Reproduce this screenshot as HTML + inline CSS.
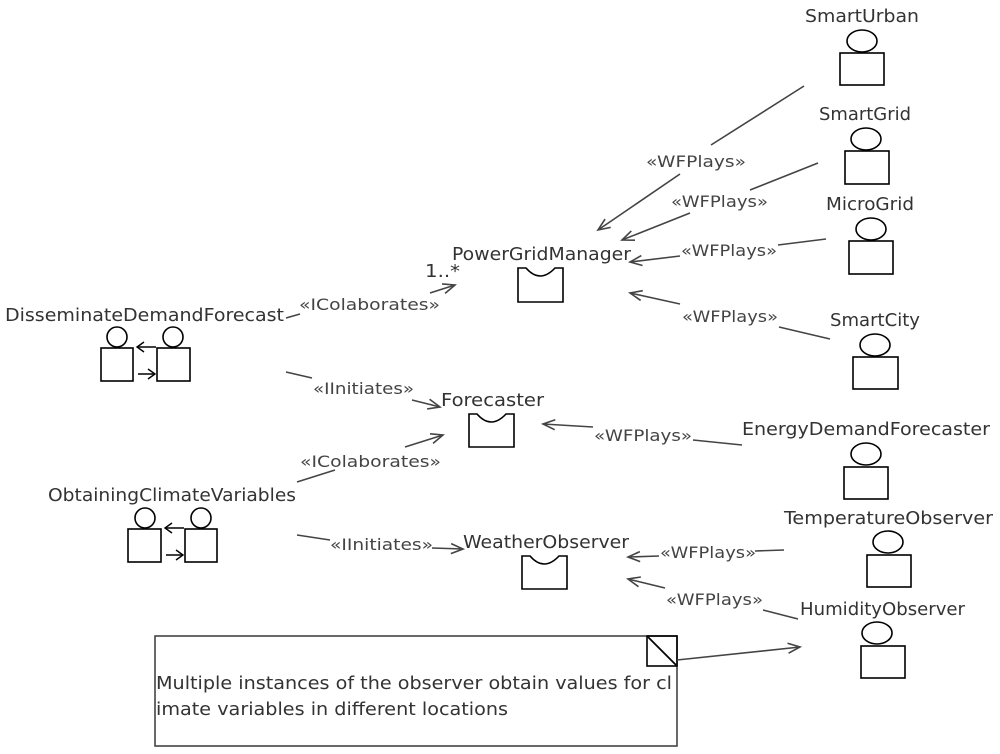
<!DOCTYPE html>
<html><head><meta charset="utf-8"><style>
html,body{margin:0;padding:0;background:#fff;}
svg{display:block;}
text{font-family:"DejaVu Sans","Liberation Sans",sans-serif;}
.n{font-size:18px;fill:#333;}
.l{font-size:16px;fill:#444;}
</style></head><body>
<svg width="1000" height="754" viewBox="0 0 1000 754" xmlns="http://www.w3.org/2000/svg">
<defs>
<marker id="a" markerWidth="16" markerHeight="12" refX="13" refY="6" orient="auto" markerUnits="userSpaceOnUse">
<path d="M1,1 L13,6 L1,11" fill="none" stroke="#444" stroke-width="1.6"/>
</marker>
<marker id="b" markerWidth="12" markerHeight="12" refX="10" refY="6" orient="auto" markerUnits="userSpaceOnUse">
<path d="M3,1 L10,6 L3,11" fill="none" stroke="#000" stroke-width="1.4"/>
</marker>
</defs>
<g fill="none" stroke="#000" stroke-width="1.6">
<ellipse cx="862" cy="41" rx="15" ry="11"/><rect x="840" y="53" width="44" height="32"/>
<ellipse cx="866" cy="139" rx="15" ry="11"/><rect x="845" y="151" width="44" height="33"/>
<ellipse cx="871" cy="229" rx="15" ry="11"/><rect x="849" y="241" width="44" height="33"/>
<ellipse cx="875" cy="345" rx="15" ry="11"/><rect x="853" y="357" width="45" height="32"/>
<ellipse cx="866" cy="454" rx="15" ry="11"/><rect x="844" y="467" width="44" height="32"/>
<ellipse cx="888" cy="542" rx="15" ry="11"/><rect x="867" y="555" width="44" height="32"/>
<ellipse cx="877" cy="633" rx="15" ry="11"/><rect x="861" y="646" width="44" height="32"/>
<path d="M518,302 V268 H526 Q540,284 555,268 H563 V302 Z"/>
<path d="M469,447 V414 H477 Q491,430 506,414 H514 V447 Z"/>
<path d="M522,589 V556 H530 Q544,572 559,556 H567 V589 Z"/>
<circle cx="117" cy="337" r="10"/><rect x="101" y="348" width="32" height="33"/>
<circle cx="173" cy="337" r="10"/><rect x="157" y="348" width="33" height="33"/>
<circle cx="145" cy="518" r="10"/><rect x="128" y="529" width="33" height="33"/>
<circle cx="201" cy="518" r="10"/><rect x="185" y="529" width="32" height="33"/>
</g>
<g stroke="#000" stroke-width="1.4" fill="none">
<line x1="156" y1="347" x2="137" y2="347" marker-end="url(#b)"/>
<line x1="138" y1="374" x2="155" y2="374" marker-end="url(#b)"/>
<line x1="184" y1="528" x2="165" y2="528" marker-end="url(#b)"/>
<line x1="166" y1="555" x2="183" y2="555" marker-end="url(#b)"/>
</g>
<rect x="155" y="636" width="522" height="110" fill="none" stroke="#444" stroke-width="1.6"/>
<rect x="647" y="636" width="30" height="30" fill="none" stroke="#000" stroke-width="1.6"/>
<line x1="648" y1="637" x2="676" y2="665" stroke="#000" stroke-width="1.8"/>
<g stroke="#444" stroke-width="1.6" fill="none">
<line x1="286" y1="318" x2="300" y2="314"/>
<line x1="430" y1="293" x2="455" y2="285" marker-end="url(#a)"/>
<line x1="286" y1="372" x2="312" y2="378"/>
<line x1="412" y1="400" x2="440" y2="407" marker-end="url(#a)"/>
<line x1="297" y1="482" x2="335" y2="470"/>
<line x1="405" y1="447" x2="443" y2="435" marker-end="url(#a)"/>
<line x1="297" y1="535" x2="330" y2="540"/>
<line x1="432" y1="548" x2="463" y2="549" marker-end="url(#a)"/>
<line x1="804" y1="86" x2="711" y2="145"/>
<line x1="680" y1="174" x2="598" y2="230" marker-end="url(#a)"/>
<line x1="818" y1="163" x2="750" y2="190"/>
<line x1="690" y1="213" x2="622" y2="240" marker-end="url(#a)"/>
<line x1="826" y1="239" x2="778" y2="245"/>
<line x1="680" y1="256" x2="630" y2="262" marker-end="url(#a)"/>
<line x1="830" y1="339" x2="779" y2="327"/>
<line x1="680" y1="304" x2="630" y2="293" marker-end="url(#a)"/>
<line x1="742" y1="445" x2="693" y2="440"/>
<line x1="593" y1="427" x2="543" y2="424" marker-end="url(#a)"/>
<line x1="784" y1="550" x2="755" y2="551"/>
<line x1="659" y1="556" x2="628" y2="557" marker-end="url(#a)"/>
<line x1="798" y1="619" x2="763" y2="610"/>
<line x1="665" y1="588" x2="628" y2="579" marker-end="url(#a)"/>
<line x1="677" y1="660" x2="800" y2="647" marker-end="url(#a)"/>
</g>
<text class="n" x="805" y="22" textLength="114" lengthAdjust="spacingAndGlyphs">SmartUrban</text>
<text class="n" x="819" y="120" textLength="92" lengthAdjust="spacingAndGlyphs">SmartGrid</text>
<text class="n" x="826" y="210" textLength="88" lengthAdjust="spacingAndGlyphs">MicroGrid</text>
<text class="n" x="830" y="326" textLength="90" lengthAdjust="spacingAndGlyphs">SmartCity</text>
<text class="n" x="742" y="435" textLength="248" lengthAdjust="spacingAndGlyphs">EnergyDemandForecaster</text>
<text class="n" x="784" y="524" textLength="209" lengthAdjust="spacingAndGlyphs">TemperatureObserver</text>
<text class="n" x="800" y="615" textLength="165" lengthAdjust="spacingAndGlyphs">HumidityObserver</text>
<text class="n" x="452" y="260" textLength="179" lengthAdjust="spacingAndGlyphs">PowerGridManager</text>
<text class="n" x="441" y="406" textLength="103" lengthAdjust="spacingAndGlyphs">Forecaster</text>
<text class="n" x="463" y="548" textLength="166" lengthAdjust="spacingAndGlyphs">WeatherObserver</text>
<text class="n" x="5" y="321" textLength="279" lengthAdjust="spacingAndGlyphs">DisseminateDemandForecast</text>
<text class="n" x="48" y="501" textLength="248" lengthAdjust="spacingAndGlyphs">ObtainingClimateVariables</text>
<text class="n" x="425" y="277" textLength="35" lengthAdjust="spacingAndGlyphs">1..*</text>
<text class="l" x="299" y="310" textLength="141" lengthAdjust="spacingAndGlyphs">«IColaborates»</text>
<text class="l" x="313" y="394" textLength="101" lengthAdjust="spacingAndGlyphs">«IInitiates»</text>
<text class="l" x="300" y="467" textLength="141" lengthAdjust="spacingAndGlyphs">«IColaborates»</text>
<text class="l" x="330" y="550" textLength="103" lengthAdjust="spacingAndGlyphs">«IInitiates»</text>
<text class="l" x="646" y="167" textLength="100" lengthAdjust="spacingAndGlyphs">«WFPlays»</text>
<text class="l" x="671" y="207" textLength="97" lengthAdjust="spacingAndGlyphs">«WFPlays»</text>
<text class="l" x="681" y="256" textLength="96" lengthAdjust="spacingAndGlyphs">«WFPlays»</text>
<text class="l" x="682" y="322" textLength="96" lengthAdjust="spacingAndGlyphs">«WFPlays»</text>
<text class="l" x="594" y="441" textLength="98" lengthAdjust="spacingAndGlyphs">«WFPlays»</text>
<text class="l" x="660" y="558" textLength="96" lengthAdjust="spacingAndGlyphs">«WFPlays»</text>
<text class="l" x="666" y="605" textLength="97" lengthAdjust="spacingAndGlyphs">«WFPlays»</text>
<text class="n" x="156" y="689" textLength="516" lengthAdjust="spacingAndGlyphs">Multiple instances of the observer obtain values for cl</text>
<text class="n" x="156" y="715" textLength="352" lengthAdjust="spacingAndGlyphs">imate variables in different locations</text>
</svg>
</body></html>
